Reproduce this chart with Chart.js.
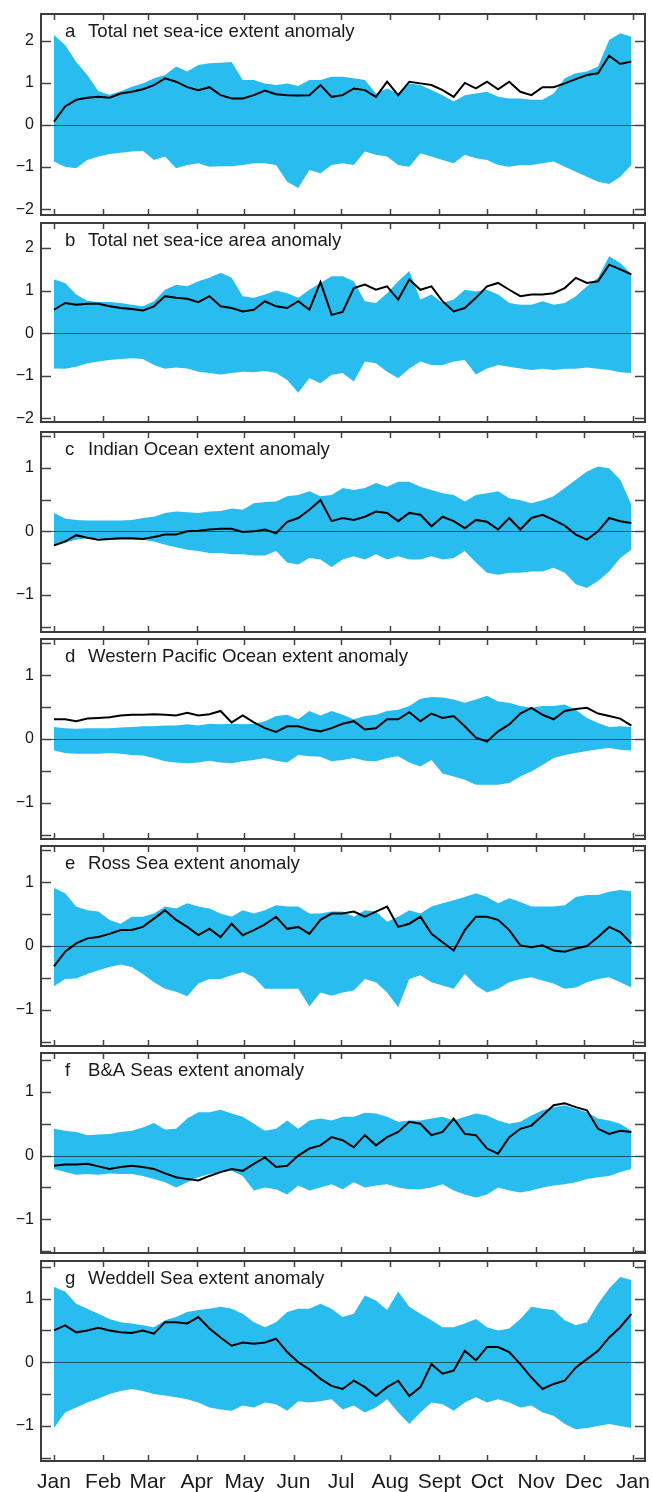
<!DOCTYPE html>
<html>
<head>
<meta charset="utf-8">
<script src="https://cdn.jsdelivr.net/npm/chart.js@4.4.0/dist/chart.umd.min.js"></script>
<style>
  body { margin: 0; background: #fff; width: 653px; height: 1492px; position: relative; overflow: hidden; }
  canvas { position: absolute; left: 0; }
</style>
</head>
<body>
<script>
// day of year for every sample
const days = [0,7,14,21,28,35,42,49,56,63,70,77,84,91,98,105,112,119,126,133,140,147,154,161,168,175,182,189,196,203,210,217,224,231,238,245,252,259,266,273,280,287,294,301,308,315,322,329,336,343,350,357,364];

const monthDays = [0,31,59,90,120,151,181,212,243,273,304,334,365];
const monthLabels = ['Jan','Feb','Mar','Apr','May','Jun','Jul','Aug','Sept','Oct','Nov','Dec','Jan'];

// a  Total net sea-ice extent anomaly
const aUpper = [2.14,1.9,1.5,1.19,0.8,0.72,0.8,0.91,0.99,1.11,1.19,1.39,1.27,1.43,1.47,1.48,1.5,1.07,1.07,0.99,0.95,0.99,0.93,1.07,1.07,1.15,1.15,1.11,1.07,0.75,0.87,0.75,0.99,0.95,0.83,0.71,0.56,0.71,0.75,0.79,0.67,0.63,0.63,0.6,0.6,0.75,1.11,1.23,1.27,1.39,2.02,2.18,2.1];
const aLine  = [0.08,0.44,0.6,0.65,0.67,0.65,0.75,0.79,0.85,0.95,1.11,1.03,0.9,0.83,0.9,0.71,0.63,0.63,0.71,0.82,0.73,0.71,0.7,0.71,0.95,0.67,0.71,0.87,0.83,0.67,1.03,0.71,1.03,0.99,0.95,0.83,0.67,1.0,0.87,1.03,0.85,1.03,0.79,0.71,0.9,0.9,0.99,1.09,1.19,1.23,1.65,1.45,1.51];
const aLower = [-0.87,-0.99,-1.03,-0.83,-0.75,-0.69,-0.66,-0.63,-0.61,-0.83,-0.75,-1.03,-0.95,-0.91,-0.99,-0.98,-0.98,-0.95,-0.91,-0.91,-0.95,-1.35,-1.5,-1.07,-1.15,-0.95,-0.91,-0.95,-0.63,-0.71,-0.75,-0.95,-0.99,-0.67,-0.75,-0.83,-0.91,-0.71,-0.79,-0.83,-0.95,-0.99,-0.95,-0.95,-0.91,-0.87,-0.99,-1.11,-1.23,-1.35,-1.4,-1.23,-0.95];

// b  Total net sea-ice area anomaly
const bUpper = [1.26,1.18,0.91,0.76,0.73,0.73,0.71,0.67,0.63,0.75,1.02,1.14,1.1,1.22,1.3,1.42,1.3,0.87,0.83,0.91,1.0,0.94,0.83,1.02,1.18,1.34,1.34,1.22,0.75,0.71,0.94,1.22,1.46,0.79,0.91,0.71,0.79,1.02,0.98,1.02,0.91,0.71,0.67,0.67,0.75,0.67,0.71,0.87,1.1,1.3,1.81,1.65,1.39];
const bLine  = [0.55,0.71,0.67,0.69,0.69,0.63,0.59,0.57,0.53,0.63,0.87,0.83,0.81,0.73,0.87,0.63,0.59,0.51,0.55,0.75,0.63,0.59,0.75,0.55,1.2,0.43,0.5,1.06,1.14,1.02,1.1,0.79,1.26,1.02,1.1,0.75,0.51,0.59,0.83,1.1,1.18,1.02,0.87,0.91,0.91,0.94,1.06,1.3,1.18,1.22,1.61,1.5,1.38];
const bLower = [-0.83,-0.84,-0.79,-0.71,-0.67,-0.63,-0.61,-0.59,-0.61,-0.75,-0.84,-0.81,-0.83,-0.91,-0.94,-0.97,-0.94,-0.91,-0.92,-0.89,-0.94,-1.1,-1.4,-1.06,-1.18,-0.98,-0.94,-1.14,-0.67,-0.71,-0.91,-1.06,-0.83,-0.67,-0.75,-0.75,-0.67,-0.63,-0.97,-0.83,-0.75,-0.79,-0.83,-0.87,-0.84,-0.87,-0.84,-0.84,-0.81,-0.84,-0.87,-0.92,-0.94];

// c  Indian Ocean
const cUpper = [0.29,0.2,0.18,0.17,0.17,0.17,0.17,0.18,0.21,0.23,0.29,0.31,0.3,0.29,0.31,0.32,0.36,0.34,0.44,0.46,0.47,0.55,0.57,0.63,0.55,0.57,0.68,0.65,0.68,0.76,0.7,0.78,0.78,0.7,0.65,0.6,0.57,0.47,0.57,0.6,0.63,0.52,0.49,0.44,0.49,0.55,0.68,0.81,0.94,1.02,0.99,0.81,0.42];
const cLine  = [-0.22,-0.16,-0.06,-0.1,-0.13,-0.12,-0.11,-0.11,-0.12,-0.09,-0.05,-0.05,0.0,0.01,0.03,0.04,0.04,-0.01,0.0,0.03,-0.03,0.15,0.21,0.34,0.49,0.16,0.21,0.18,0.23,0.31,0.29,0.16,0.29,0.26,0.08,0.23,0.16,0.05,0.18,0.15,0.03,0.21,0.03,0.21,0.26,0.18,0.09,-0.05,-0.13,0.0,0.21,0.16,0.13];
const cLower = [-0.23,-0.17,-0.13,-0.11,-0.11,-0.13,-0.13,-0.13,-0.13,-0.16,-0.21,-0.25,-0.29,-0.31,-0.34,-0.34,-0.36,-0.36,-0.38,-0.38,-0.31,-0.49,-0.52,-0.42,-0.44,-0.56,-0.44,-0.39,-0.44,-0.36,-0.44,-0.39,-0.44,-0.44,-0.39,-0.44,-0.42,-0.31,-0.49,-0.65,-0.68,-0.65,-0.65,-0.63,-0.63,-0.57,-0.65,-0.83,-0.89,-0.78,-0.63,-0.42,-0.29];

// d  Western Pacific Ocean
const dUpper = [0.19,0.17,0.16,0.17,0.17,0.17,0.18,0.19,0.2,0.2,0.21,0.21,0.23,0.21,0.24,0.23,0.24,0.23,0.24,0.28,0.36,0.38,0.31,0.44,0.37,0.44,0.38,0.31,0.36,0.38,0.44,0.46,0.52,0.63,0.66,0.65,0.62,0.57,0.62,0.68,0.59,0.57,0.52,0.49,0.52,0.52,0.54,0.46,0.33,0.25,0.19,0.2,0.19];
const dLine  = [0.31,0.31,0.28,0.32,0.33,0.34,0.37,0.38,0.38,0.39,0.38,0.37,0.41,0.37,0.39,0.44,0.26,0.37,0.26,0.17,0.11,0.2,0.2,0.15,0.12,0.17,0.24,0.28,0.15,0.17,0.31,0.31,0.42,0.28,0.4,0.33,0.36,0.2,0.02,-0.04,0.12,0.23,0.4,0.49,0.38,0.31,0.44,0.47,0.49,0.4,0.36,0.32,0.21];
const dLower = [-0.18,-0.22,-0.23,-0.23,-0.23,-0.22,-0.23,-0.25,-0.26,-0.3,-0.35,-0.37,-0.38,-0.37,-0.34,-0.37,-0.38,-0.35,-0.33,-0.3,-0.34,-0.37,-0.25,-0.27,-0.28,-0.35,-0.33,-0.3,-0.34,-0.35,-0.3,-0.27,-0.37,-0.43,-0.33,-0.54,-0.59,-0.64,-0.72,-0.72,-0.72,-0.69,-0.59,-0.51,-0.41,-0.3,-0.25,-0.22,-0.19,-0.16,-0.14,-0.17,-0.18];

// e  Ross Sea
const eUpper = [0.91,0.83,0.62,0.56,0.54,0.41,0.35,0.46,0.46,0.51,0.62,0.59,0.67,0.62,0.59,0.51,0.46,0.56,0.51,0.56,0.64,0.62,0.62,0.51,0.51,0.54,0.54,0.46,0.56,0.54,0.38,0.46,0.56,0.51,0.62,0.67,0.72,0.77,0.83,0.77,0.67,0.75,0.69,0.62,0.62,0.62,0.64,0.77,0.8,0.8,0.85,0.88,0.86];
const eLine  = [-0.32,-0.09,0.04,0.12,0.14,0.19,0.25,0.25,0.3,0.43,0.56,0.41,0.3,0.17,0.27,0.14,0.35,0.17,0.25,0.34,0.46,0.27,0.3,0.19,0.41,0.51,0.51,0.54,0.46,0.54,0.62,0.3,0.35,0.46,0.19,0.06,-0.07,0.25,0.46,0.46,0.41,0.25,0.01,-0.02,0.01,-0.07,-0.09,-0.04,0.0,0.14,0.3,0.22,0.04];
const eLower = [-0.63,-0.52,-0.51,-0.44,-0.38,-0.33,-0.29,-0.33,-0.44,-0.57,-0.67,-0.72,-0.79,-0.59,-0.52,-0.52,-0.46,-0.41,-0.49,-0.67,-0.67,-0.67,-0.67,-0.95,-0.73,-0.78,-0.73,-0.7,-0.52,-0.57,-0.73,-0.96,-0.52,-0.46,-0.57,-0.62,-0.67,-0.44,-0.62,-0.73,-0.67,-0.57,-0.52,-0.49,-0.54,-0.59,-0.67,-0.65,-0.57,-0.52,-0.49,-0.57,-0.65];

// f  B&A Seas
const fUpper = [0.42,0.39,0.37,0.32,0.33,0.34,0.37,0.39,0.44,0.51,0.41,0.42,0.58,0.68,0.68,0.72,0.66,0.61,0.5,0.39,0.42,0.55,0.42,0.55,0.58,0.55,0.61,0.61,0.67,0.66,0.61,0.53,0.55,0.55,0.58,0.61,0.55,0.61,0.66,0.63,0.55,0.5,0.53,0.63,0.71,0.76,0.79,0.74,0.68,0.58,0.55,0.5,0.39];
const fLine  = [-0.16,-0.14,-0.14,-0.13,-0.17,-0.21,-0.18,-0.16,-0.18,-0.21,-0.28,-0.34,-0.37,-0.39,-0.32,-0.26,-0.21,-0.24,-0.13,-0.03,-0.18,-0.16,0.0,0.11,0.16,0.29,0.24,0.13,0.32,0.16,0.29,0.37,0.53,0.5,0.32,0.37,0.58,0.34,0.32,0.11,0.03,0.29,0.42,0.47,0.63,0.79,0.82,0.76,0.71,0.42,0.34,0.39,0.37];
const fLower = [-0.21,-0.26,-0.3,-0.29,-0.3,-0.28,-0.29,-0.29,-0.32,-0.37,-0.42,-0.5,-0.42,-0.34,-0.29,-0.26,-0.24,-0.32,-0.55,-0.5,-0.53,-0.61,-0.47,-0.55,-0.5,-0.45,-0.53,-0.42,-0.5,-0.47,-0.45,-0.5,-0.53,-0.53,-0.5,-0.45,-0.55,-0.61,-0.66,-0.61,-0.5,-0.55,-0.58,-0.55,-0.5,-0.47,-0.45,-0.42,-0.37,-0.34,-0.32,-0.26,-0.21];

// g  Weddell Sea
const gUpper = [1.18,1.11,0.92,0.84,0.76,0.68,0.63,0.61,0.58,0.55,0.66,0.71,0.79,0.82,0.84,0.87,0.84,0.76,0.63,0.55,0.63,0.79,0.84,0.84,0.92,0.84,0.71,0.76,1.05,0.97,0.82,1.11,0.87,0.76,0.66,0.55,0.55,0.61,0.68,0.55,0.5,0.53,0.68,0.87,0.84,0.82,0.66,0.58,0.63,0.92,1.16,1.34,1.29];
const gLine  = [0.5,0.58,0.47,0.5,0.54,0.5,0.47,0.46,0.5,0.45,0.63,0.63,0.61,0.71,0.53,0.39,0.26,0.31,0.29,0.31,0.37,0.16,0.0,-0.11,-0.26,-0.37,-0.42,-0.29,-0.39,-0.53,-0.39,-0.29,-0.53,-0.39,-0.03,-0.18,-0.13,0.18,0.03,0.24,0.24,0.16,-0.03,-0.24,-0.42,-0.34,-0.29,-0.08,0.05,0.18,0.39,0.55,0.76];
const gLower = [-1.03,-0.79,-0.71,-0.63,-0.57,-0.5,-0.45,-0.42,-0.45,-0.5,-0.52,-0.55,-0.58,-0.63,-0.71,-0.74,-0.76,-0.68,-0.71,-0.63,-0.66,-0.76,-0.61,-0.63,-0.61,-0.58,-0.74,-0.68,-0.79,-0.71,-0.58,-0.79,-0.97,-0.79,-0.63,-0.66,-0.76,-0.63,-0.55,-0.63,-0.58,-0.63,-0.71,-0.68,-0.79,-0.84,-0.97,-1.05,-1.03,-1.0,-0.97,-1.0,-1.03];

const bigTicks = [-2,-1,0,1,2];
const smallTicks = [-1.5,-1,-0.5,0,0.5,1,1.5];

const panels = [
  { letter: 'a', title: 'Total net sea-ice extent anomaly', upper: aUpper, line: aLine, lower: aLower, ticks: bigTicks, min: -2.14, max: 2.64, top: 14, h: 201 },
  { letter: 'b', title: 'Total net sea-ice area anomaly', upper: bUpper, line: bLine, lower: bLower, ticks: bigTicks, min: -2.09, max: 2.59, top: 223, h: 199 },
  { letter: 'c', title: 'Indian Ocean extent anomaly', upper: cUpper, line: cLine, lower: cLower, ticks: smallTicks, min: -1.58, max: 1.56, top: 432, h: 200 },
  { letter: 'd', title: 'Western Pacific Ocean extent anomaly', upper: dUpper, line: dLine, lower: dLower, ticks: smallTicks, min: -1.57, max: 1.57, top: 639, h: 200 },
  { letter: 'e', title: 'Ross Sea extent anomaly', upper: eUpper, line: eLine, lower: eLower, ticks: smallTicks, min: -1.57, max: 1.57, top: 846, h: 200 },
  { letter: 'f', title: 'B&A Seas extent anomaly', upper: fUpper, line: fLine, lower: fLower, ticks: smallTicks, min: -1.53, max: 1.61, top: 1053, h: 200 },
  { letter: 'g', title: 'Weddell Sea extent anomaly', upper: gUpper, line: gLine, lower: gLower, ticks: smallTicks, min: -1.55, max: 1.59, top: 1261, h: 200 }
];

const FONT = '"Liberation Sans", Arial, Helvetica, sans-serif';
const PAD = 12;
const AXIS_H = 31;

const framePlugin = {
  id: 'frame',
  afterDatasetDraw(chart, args) {
    // zero line sits on the blue band, under the black curve
    if (args.index !== 1) return;
    const { ctx, chartArea: ca, scales: { y } } = chart;
    const y0 = Math.round(y.getPixelForValue(0)) + 0.5;
    ctx.save();
    ctx.strokeStyle = '#1a5568';
    ctx.lineWidth = 1;
    ctx.beginPath();
    ctx.moveTo(ca.left, y0);
    ctx.lineTo(ca.right, y0);
    ctx.stroke();
    ctx.restore();
  },
  afterDraw(chart, args, opts) {
    const { ctx, chartArea: ca, scales: { x, y } } = chart;
    ctx.save();
    ctx.strokeStyle = '#444';
    ctx.lineWidth = 1.5;
    ctx.beginPath();
    y.ticks.forEach(t => {
      const py = Math.round(y.getPixelForValue(t.value)) + 0.5;
      ctx.moveTo(ca.left, py); ctx.lineTo(ca.left + 10, py);
      ctx.moveTo(ca.right, py); ctx.lineTo(ca.right - 10, py);
    });
    monthDays.forEach(d => {
      const px = Math.round(x.getPixelForValue(d)) + 0.5;
      ctx.moveTo(px, ca.top); ctx.lineTo(px, ca.top + 6);
      ctx.moveTo(px, ca.bottom); ctx.lineTo(px, ca.bottom - 6);
    });
    ctx.stroke();

    ctx.lineWidth = 2;
    ctx.strokeStyle = '#3c3c3c';
    ctx.strokeRect(ca.left, ca.top, ca.right - ca.left, ca.bottom - ca.top);

    ctx.fillStyle = '#1a1a1a';
    ctx.font = '18.6px ' + FONT;
    ctx.textBaseline = 'middle';
    ctx.textAlign = 'left';
    ctx.fillText(opts.letter, ca.left + 24, ca.top + 18);
    ctx.fillText(opts.title, ca.left + 47, ca.top + 18);
    ctx.restore();
  }
};

panels.forEach((p, i) => {
  const isLast = i === panels.length - 1;
  const canvas = document.createElement('canvas');
  const height = p.h + PAD + (isLast ? AXIS_H : PAD);
  canvas.width = 653;
  canvas.height = height;
  canvas.style.top = (p.top - PAD) + 'px';
  canvas.style.width = '653px';
  canvas.style.height = height + 'px';
  document.body.appendChild(canvas);

  const toPoints = arr => days.map((d, k) => ({ x: d, y: arr[k] }));

  new Chart(canvas.getContext('2d'), {
    type: 'line',
    data: {
      datasets: [
        { label: 'observed', data: toPoints(p.line), borderColor: '#000', borderWidth: 2, pointRadius: 0, tension: 0, fill: false },
        { label: 'upper', data: toPoints(p.upper), borderWidth: 0, borderColor: 'rgba(0,0,0,0)', backgroundColor: '#29bdef', pointRadius: 0, tension: 0, fill: '+1' },
        { label: 'lower', data: toPoints(p.lower), borderWidth: 0, borderColor: 'rgba(0,0,0,0)', pointRadius: 0, tension: 0, fill: false }
      ]
    },
    options: {
      responsive: false,
      animation: false,
      devicePixelRatio: 1,
      layout: { padding: { top: PAD, bottom: isLast ? 0 : PAD, left: 0, right: 8 } },
      plugins: {
        legend: { display: false },
        tooltip: { enabled: false },
        frame: { letter: p.letter, title: p.title }
      },
      scales: {
        x: {
          type: 'linear',
          min: -8.2,
          max: 372.6,
          display: isLast,
          grid: { display: false, drawTicks: false },
          border: { display: false },
          afterBuildTicks: s => { s.ticks = monthDays.map(v => ({ value: v })); },
          afterFit: s => {
            if (isLast) s.height = AXIS_H;
            s.paddingLeft = 0;
            s.paddingRight = 0;
          },
          ticks: {
            autoSkip: false,
            maxRotation: 0,
            padding: 9,
            color: '#1a1a1a',
            font: { size: 21, family: FONT },
            callback: (v, k) => monthLabels[k]
          }
        },
        y: {
          min: p.min,
          max: p.max,
          grid: { display: false, drawTicks: false },
          border: { display: false },
          afterBuildTicks: s => { s.ticks = p.ticks.map(v => ({ value: v })); },
          afterFit: s => {
            s.width = 41;
            s.paddingTop = 0;
            s.paddingBottom = 0;
          },
          ticks: {
            autoSkip: false,
            padding: 7,
            color: '#1a1a1a',
            font: { size: 16, family: FONT },
            callback: v => Number.isInteger(v) ? (v < 0 ? '\u2212' + Math.abs(v) : String(v)) : ''
          }
        }
      }
    },
    plugins: [framePlugin]
  });
});
</script>
</body>
</html>
